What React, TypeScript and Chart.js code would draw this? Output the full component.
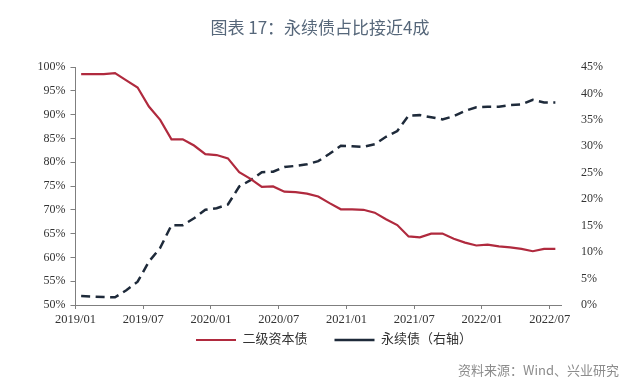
import { useEffect, useRef } from 'react';
import { Chart, registerables } from 'chart.js';

Chart.register(...registerables);

const months = [
  '2019/01', '2019/02', '2019/03', '2019/04', '2019/05', '2019/06', '2019/07', '2019/08', '2019/09', '2019/10', '2019/11', '2019/12',
  '2020/01', '2020/02', '2020/03', '2020/04', '2020/05', '2020/06', '2020/07', '2020/08', '2020/09', '2020/10', '2020/11', '2020/12',
  '2021/01', '2021/02', '2021/03', '2021/04', '2021/05', '2021/06', '2021/07', '2021/08', '2021/09', '2021/10', '2021/11', '2021/12',
  '2022/01', '2022/02', '2022/03', '2022/04', '2022/05', '2022/06', '2022/07',
];

const xTickLabels = ['2019/01', '2019/07', '2020/01', '2020/07', '2021/01', '2021/07', '2022/01', '2022/07'];

// 二级资本债 share (%), left axis
const tier2Share = [
  98.5, 98.5, 98.5, 98.7, 97.2, 95.7, 91.7, 88.9, 84.8, 84.8,
  83.5, 81.7, 81.5, 80.8, 77.9, 76.5, 74.8, 74.9, 73.8, 73.7,
  73.4, 72.8, 71.4, 70.1, 70.1, 70.0, 69.4, 68.0, 66.8, 64.4,
  64.2, 65.0, 65.0, 63.9, 63.1, 62.5, 62.7, 62.3, 62.1, 61.8,
  61.3, 61.8, 61.8,
];

// 永续债 share (%), right axis
const perpShare = [
  1.7, 1.6, 1.5, 1.45, 2.8, 4.4, 8.2, 10.8, 15.1, 15.1,
  16.4, 18.0, 18.3, 19.0, 22.4, 23.6, 25.1, 25.2, 26.1, 26.3,
  26.6, 27.2, 28.6, 30.1, 30.0, 29.9, 30.4, 31.8, 32.9, 35.8,
  35.9, 35.5, 35.1, 35.7, 36.7, 37.4, 37.5, 37.5, 37.8, 37.9,
  38.8, 38.3, 38.3,
];

const seriesNames = ['二级资本债', '永续债（右轴）'];
const leftAxisRange = [50, 100];
const rightAxisRange = [0, 45];
const titleText = '图表 17：永续债占比接近4成';
const sourceText = '资料来源：Wind、兴业研究';

const SERIF = "'Liberation Serif', 'DejaVu Serif', 'Noto Sans CJK SC', serif";
const SANS_CJK = "'Noto Sans CJK SC', 'Noto Sans', sans-serif";
const AXIS_COLOR = '#7f7f7f';
const TEXT_COLOR = '#333333';

const textPlugin = {
  id: 'titleAndSource',
  afterLayout(chart: any) {
    // pull the legend row up just under the axis labels
    const legend = chart.legend;
    if (legend) {
      const shift = 20.5;
      legend.top -= shift;
      legend.bottom -= shift;
    }
  },
  afterDraw(chart: any) {
    const ctx = chart.ctx;
    ctx.save();
    ctx.font = `17px ${SANS_CJK}`;
    ctx.fillStyle = '#56677a';
    ctx.textAlign = 'center';
    ctx.textBaseline = 'middle';
    ctx.fillText(titleText, chart.width / 2, 27.5);
    ctx.font = `13px ${SANS_CJK}`;
    ctx.fillStyle = '#8c8c8c';
    ctx.textAlign = 'right';
    ctx.fillText(sourceText, chart.width - 21, 370);
    ctx.restore();
  },
};

export default function App() {
  const canvasRef = useRef<HTMLCanvasElement | null>(null);

  useEffect(() => {
    if (!canvasRef.current) return;
    const chart = new Chart(canvasRef.current, {
      type: 'line',
      data: {
        datasets: [
          {
            label: seriesNames[0],
            data: tier2Share.map((v, i) => ({ x: i + 0.5, y: v })),
            borderColor: '#b02a3e',
            backgroundColor: '#b02a3e',
            borderWidth: 2.2,
            pointRadius: 0,
            tension: 0,
            yAxisID: 'y',
          },
          {
            label: seriesNames[1],
            data: perpShare.map((v, i) => ({ x: i + 0.5, y: v })),
            borderColor: '#1e2a3a',
            backgroundColor: '#1e2a3a',
            borderWidth: 2.5,
            borderDash: [9, 5.5],
            pointRadius: 0,
            tension: 0,
            yAxisID: 'y1',
          },
        ],
      },
      options: {
        responsive: false,
        animation: false,
        events: [],
        layout: { padding: { left: 28, right: 0, top: 67, bottom: 13 } },
        plugins: {
          title: { display: false },
          tooltip: { enabled: false },
          legend: {
            display: true,
            position: 'bottom',
            align: 'center',
            labels: {
              usePointStyle: true,
              pointStyle: 'line',
              pointStyleWidth: 40,
              padding: 27,
              color: TEXT_COLOR,
              font: { family: SERIF, size: 13 },
            },
          },
        },
        scales: {
          x: {
            type: 'linear',
            min: 0,
            max: months.length,
            afterBuildTicks: (scale: any) => {
              scale.ticks = xTickLabels.map((l) => ({ value: months.indexOf(l) }));
            },
            afterFit: (scale: any) => {
              scale.height = 22;
            },
            ticks: {
              autoSkip: false,
              maxRotation: 0,
              padding: 3,
              color: TEXT_COLOR,
              font: { family: SERIF, size: 12.5 },
              callback: (v: any) => months[v as number],
            },
            grid: { display: true, drawOnChartArea: false, drawTicks: true, tickLength: 4, color: AXIS_COLOR },
            border: { display: true, color: AXIS_COLOR, width: 1 },
          },
          y: {
            type: 'linear',
            position: 'left',
            min: leftAxisRange[0],
            max: leftAxisRange[1],
            afterFit: (scale: any) => {
              scale.width = 47.5;
            },
            ticks: {
              stepSize: 5,
              padding: 5,
              color: TEXT_COLOR,
              font: { family: SERIF, size: 12 },
              callback: (v: any) => `${v}%`,
            },
            grid: { display: true, drawOnChartArea: false, drawTicks: true, tickLength: 5, color: AXIS_COLOR },
            border: { display: true, color: AXIS_COLOR, width: 1 },
          },
          y1: {
            type: 'linear',
            position: 'right',
            min: rightAxisRange[0],
            max: rightAxisRange[1],
            afterFit: (scale: any) => {
              scale.width = 79;
            },
            ticks: {
              stepSize: 5,
              padding: 12,
              color: TEXT_COLOR,
              font: { family: SERIF, size: 12 },
              callback: (v: any) => `${v}%`,
            },
            grid: { display: false },
            border: { display: false },
          },
        },
      },
      plugins: [textPlugin],
    } as any);
    return () => chart.destroy();
  }, []);

  return (
    <div style={{ position: 'fixed', left: 0, top: 0, width: 640, height: 390, background: '#ffffff' }}>
      <canvas ref={canvasRef} width={640} height={390} />
    </div>
  );
}
